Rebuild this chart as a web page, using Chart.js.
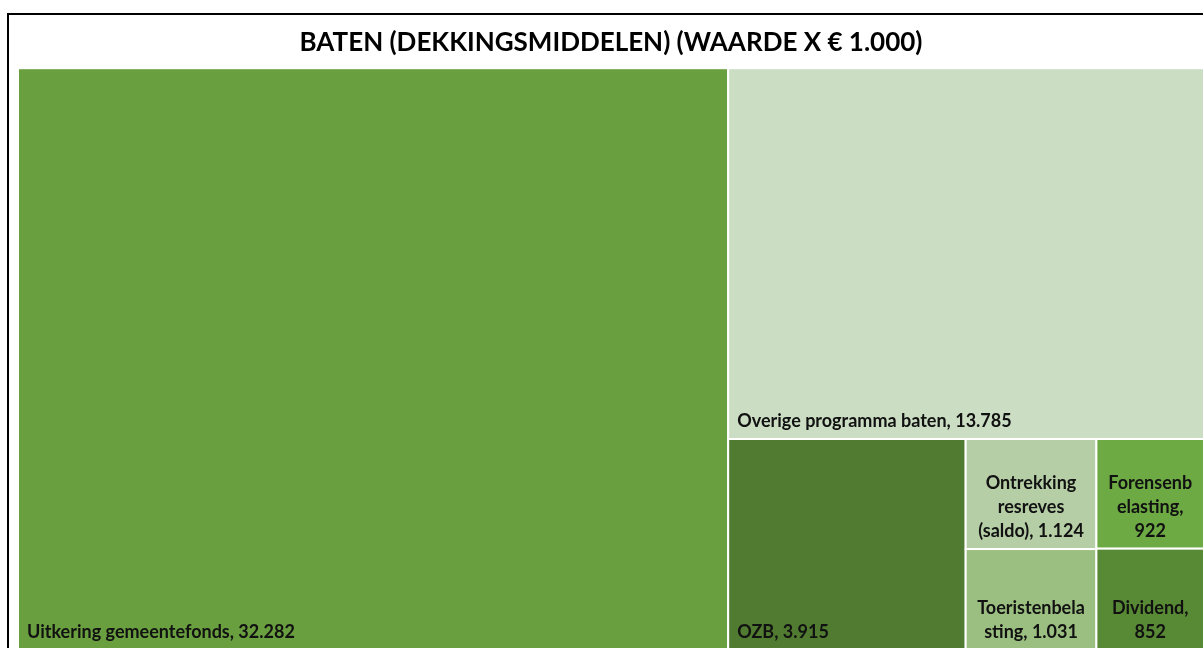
<!DOCTYPE html>
<html>
<head>
<meta charset="utf-8">
<script src="https://cdn.jsdelivr.net/npm/chart.js@4.4.1/dist/chart.umd.min.js"></script>
<style>
    html, body { margin: 0; padding: 0; background: #ffffff; overflow: hidden; }
    #wrap { position: relative; width: 1205px; height: 651px; }
</style>
</head>
<body>
<div id="wrap"><canvas id="treeChart"></canvas></div>
<script>
const TITLE = 'BATEN (DEKKINGSMIDDELEN) (WAARDE X € 1.000)';

// posten (x € 1.000), grootste eerst zoals in de treemap
const categories = [
    'Uitkering gemeentefonds',
    'Overige programma baten',
    'OZB',
    'Ontrekking resreves (saldo)',
    'Toeristenbelasting',
    'Forensenbelasting',
    'Dividend'
];
const values = [32282, 13785, 3915, 1124, 1031, 922, 852];
const cellColors = ['#6a9f40', '#cbdec3', '#507b30', '#b5cea5', '#9bbf80', '#6daa44', '#588934'];

const FONTFAMILY = 'Lato, "Open Sans", sans-serif';
const LABELSIZE = 18;
const LINEHEIGHT = 24;
const CELLPAD = 9;

function formatNL(v) {
    return v.toString().replace(/\B(?=(\d{3})+(?!\d))/g, '.');
}

// worst aspect ratio of a row laid along a side
function worst(row, side) {
    var s = 0, mx = 0, mn = Infinity;
    for (var i = 0; i < row.length; i++) {
        s += row[i].a;
        mx = Math.max(mx, row[i].a);
        mn = Math.min(mn, row[i].a);
    }
    var s2 = s * s, w2 = side * side;
    return Math.max(w2 * mx / s2, s2 / (w2 * mn));
}

// squarified layout in "area" units, rect = x,y,w,h
function squarify(items, x, y, w, h) {
    var out = [];
    var idx = 0;
    while (idx < items.length) {
        var side = Math.min(w, h);
        var row = [items[idx]];
        var k = idx + 1;
        while (k < items.length && worst(row.concat([items[k]]), side) <= worst(row, side)) {
            row.push(items[k]);
            k++;
        }
        var s = 0;
        for (var i = 0; i < row.length; i++) s += row[i].a;
        if (w >= h) { // column at left
            var cw = s / h, cy = y;
            for (var i = 0; i < row.length; i++) {
                var ch = row[i].a / cw;
                out.push({ i: row[i].i, x: x, y: cy, w: cw, h: ch });
                cy += ch;
            }
            x += cw; w -= cw;
        } else { // row at top
            var rh = s / w, cx = x;
            for (var i = 0; i < row.length; i++) {
                var rw = row[i].a / rh;
                out.push({ i: row[i].i, x: cx, y: y, w: rw, h: rh });
                cx += rw;
            }
            y += rh; h -= rh;
        }
        idx = k;
    }
    return out;
}

// wrap words, break inside a word when it does not fit
function wrapText(ctx, text, maxW) {
    var words = text.split(' ');
    var lines = [];
    var cur = '';
    for (var n = 0; n < words.length; n++) {
        var word = words[n];
        var test = cur ? cur + ' ' + word : word;
        if (ctx.measureText(test).width <= maxW) {
            cur = test;
            continue;
        }
        if (cur) lines.push(cur);
        cur = '';
        while (ctx.measureText(word).width > maxW) {
            var c = 1;
            while (c < word.length && ctx.measureText(word.slice(0, c + 1)).width <= maxW) c++;
            lines.push(word.slice(0, c));
            word = word.slice(c);
        }
        cur = word;
    }
    if (cur) lines.push(cur);
    return lines;
}

const framePlugin = {
    id: 'frame',
    beforeDraw(chart) {
        var ctx = chart.ctx;
        ctx.save();
        ctx.fillStyle = '#ffffff';
        ctx.fillRect(0, 0, chart.width, chart.height);
        ctx.strokeStyle = '#000000';
        ctx.lineWidth = 2;
        ctx.strokeRect(8, 14, chart.width + 40, chart.height + 40);
        ctx.restore();
    }
};

const treemapPlugin = {
    id: 'treemap',
    beforeDatasetsDraw(chart) {
        var ctx = chart.ctx;
        var area = chart.chartArea;
        var xs = chart.scales.x, ys = chart.scales.y;
        var ds = chart.data.datasets[0];
        var aspect = (area.right - area.left) / (area.bottom - area.top);

        var total = 0;
        ds.data.forEach(function (v) { total += v; });
        var items = ds.data.map(function (v, i) { return { i: i, a: v / total * aspect }; });
        var cells = squarify(items, 0, 0, aspect, 1);

        ctx.save();
        ctx.font = 'bold ' + LABELSIZE + 'px ' + FONTFAMILY;
        cells.forEach(function (c) {
            var x0 = xs.getPixelForValue(c.x / aspect);
            var x1 = xs.getPixelForValue((c.x + c.w) / aspect);
            var y0 = ys.getPixelForValue(c.y);
            var y1 = ys.getPixelForValue(c.y + c.h);

            ctx.fillStyle = ds.backgroundColor[c.i];
            ctx.fillRect(x0, y0, x1 - x0, y1 - y0);
            ctx.strokeStyle = '#ffffff';
            ctx.lineWidth = 2;
            ctx.strokeRect(x0, y0, x1 - x0, y1 - y0);

            var text = chart.data.labels[c.i] + ', ' + formatNL(ds.data[c.i]);
            var maxW = (x1 - x0) - 2 * CELLPAD;
            var lines = wrapText(ctx, text, maxW);
            ctx.fillStyle = '#111111';
            ctx.textBaseline = 'alphabetic';
            var base = y1 - 12 - (lines.length - 1) * LINEHEIGHT;
            for (var l = 0; l < lines.length; l++) {
                if (lines.length == 1) {
                    ctx.textAlign = 'left';
                    ctx.fillText(lines[l], x0 + CELLPAD, base);
                } else {
                    ctx.textAlign = 'center';
                    ctx.fillText(lines[l], (x0 + x1) / 2, base + l * LINEHEIGHT);
                }
            }
        });
        ctx.restore();
    }
};

const config = {
    type: 'scatter',
    data: {
        labels: categories,
        datasets: [{
            label: 'Baten',
            data: values,
            backgroundColor: cellColors,
            pointRadius: 0,
            showLine: false
        }]
    },
    options: {
        responsive: true,
        maintainAspectRatio: false,
        animation: false,
        events: [],
        layout: {
            padding: { left: 18, right: 1, top: 0, bottom: 1 }
        },
        scales: {
            x: { type: 'linear', min: 0, max: 1, display: false },
            y: { type: 'linear', min: 0, max: 1, reverse: true, display: false }
        },
        plugins: {
            legend: { display: false },
            tooltip: { enabled: false },
            title: {
                display: true,
                text: TITLE,
                color: '#000000',
                font: { family: FONTFAMILY, size: 26, weight: 'bold', lineHeight: 1.2 },
                padding: { top: 27, bottom: 10 }
            }
        }
    },
    plugins: [framePlugin, treemapPlugin]
};

var treeChart = new Chart(document.getElementById('treeChart'), config);
</script>
</body>
</html>
